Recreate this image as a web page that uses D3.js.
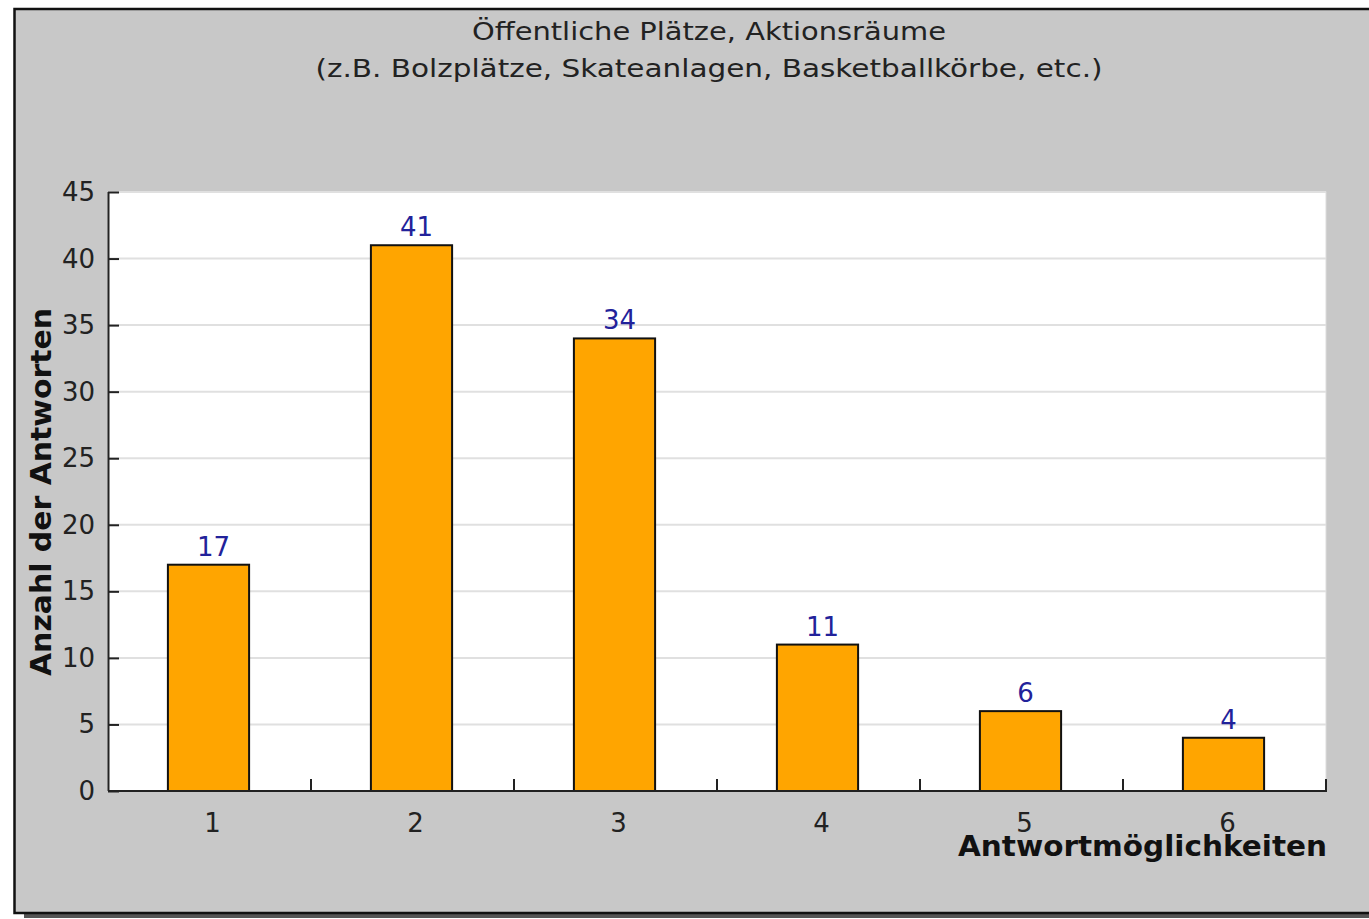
<!DOCTYPE html>
<meta charset="utf-8">
<style>
    body {
        margin: 0;
        background: #fff;
    }
    svg text {
        font-family: "DejaVu Sans", sans-serif;
    }
</style>

<body>
    <script src="https://d3js.org/d3.v7.min.js"></script>
    <script>
        var width = 1369
        var height = 919

        var titleLines = ['Öffentliche Plätze, Aktionsräume', '(z.B. Bolzplätze, Skateanlagen, Basketballkörbe, etc.)']
        var titleWidths = [474, 787]
        var categories = ['1', '2', '3', '4', '5', '6']
        var values = [17, 41, 34, 11, 6, 4]
        var yTicks = [0, 5, 10, 15, 20, 25, 30, 35, 40, 45]
        var xLabel = 'Antwortmöglichkeiten'
        var yLabel = 'Anzahl der Antworten'

        var plot = { left: 108, right: 1326, top: 192, bottom: 791 }

        var svg = d3.select('body')
            .append('svg')
            .attr('width', width)
            .attr('height', height)

        // frame with a small drop shadow
        svg.append('rect')
            .attr('x', 24).attr('y', 12)
            .attr('width', width).attr('height', 906)
            .style('fill', '#555')
        svg.append('rect')
            .attr('x', 14.5).attr('y', 9)
            .attr('width', width + 10).attr('height', 904)
            .style('fill', '#c8c8c8')
            .style('stroke', '#111')
            .style('stroke-width', 2.5)

        var x = d3.scaleBand()
            .domain(categories)
            .range([plot.left, plot.right])

        var y = d3.scaleLinear()
            .domain([0, 45])
            .range([plot.bottom, plot.top])

        svg.append('rect')
            .attr('x', plot.left).attr('y', plot.top)
            .attr('width', plot.right - plot.left).attr('height', plot.bottom - plot.top)
            .style('fill', '#fff')
            .style('stroke', '#dcdcdc')

        svg.append('g')
            .selectAll('line')
            .data(yTicks.slice(1))
            .enter().append('line')
            .attr('x1', plot.left).attr('x2', plot.right)
            .attr('y1', function (d) { return y(d) })
            .attr('y2', function (d) { return y(d) })
            .style('stroke', '#e0e0e0')
            .style('stroke-width', 2)

        var barW = x.bandwidth() * 0.4
        svg.append('g')
            .selectAll('rect')
            .data(values)
            .enter().append('rect')
            .attr('x', function (d, i) { return x(categories[i]) + x.bandwidth() / 2 - barW / 2 - 1 })
            .attr('y', function (d) { return y(d) })
            .attr('width', barW)
            .attr('height', function (d) { return y(0) - y(d) })
            .style('fill', '#ffa500')
            .style('stroke', '#111')
            .style('stroke-width', 2)

        svg.append('g')
            .selectAll('text')
            .data(values)
            .enter().append('text')
            .attr('x', function (d, i) { return x(categories[i]) + x.bandwidth() / 2 + 4 })
            .attr('y', function (d) { return y(d) - 9 })
            .attr('text-anchor', 'middle')
            .style('font-size', '26px')
            .style('fill', '#22229a')
            .text(function (d) { return d })

        // y axis, ticks pointing inward
        var yAxis = svg.append('g')
            .attr('transform', 'translate(' + plot.left + ',0)')
            .call(d3.axisRight(y).tickValues(yTicks).tickSize(11).tickFormat(''))
        yAxis.select('.domain').attr('d', 'M0.5,' + plot.top + 'V' + plot.bottom)
        yAxis.selectAll('line, path').style('stroke', '#222').style('stroke-width', 2)

        svg.append('g')
            .selectAll('text')
            .data(yTicks)
            .enter().append('text')
            .attr('x', plot.left - 13)
            .attr('y', function (d) { return y(d) + 9 })
            .attr('text-anchor', 'end')
            .style('font-size', '26px')
            .style('fill', '#222')
            .text(function (d) { return d })

        // x axis, boundary ticks pointing up
        var bounds = categories.map(function (c) { return x(c) + x.bandwidth() })
        var xAxis = svg.append('g')
        xAxis.append('line')
            .attr('x1', plot.left).attr('x2', plot.right + 1)
            .attr('y1', plot.bottom).attr('y2', plot.bottom)
        xAxis.selectAll('.tk')
            .data(bounds)
            .enter().append('line')
            .attr('class', 'tk')
            .attr('x1', function (d) { return d }).attr('x2', function (d) { return d })
            .attr('y1', plot.bottom).attr('y2', plot.bottom - 12)
        xAxis.selectAll('line').style('stroke', '#222').style('stroke-width', 2)

        svg.append('g')
            .selectAll('text')
            .data(categories)
            .enter().append('text')
            .attr('x', function (d) { return x(d) + x.bandwidth() / 2 + 3 })
            .attr('y', plot.bottom + 41)
            .attr('text-anchor', 'middle')
            .style('font-size', '26px')
            .style('fill', '#222')
            .text(function (d) { return d })

        svg.append('text')
            .attr('x', plot.right + 1)
            .attr('y', 856)
            .attr('text-anchor', 'end')
            .attr('textLength', 369)
            .attr('lengthAdjust', 'spacingAndGlyphs')
            .style('font-size', '29px')
            .style('font-weight', 'bold')
            .style('fill', '#111')
            .text(xLabel)

        svg.append('text')
            .attr('transform', 'translate(51,492) rotate(-90)')
            .attr('text-anchor', 'middle')
            .attr('textLength', 368)
            .attr('lengthAdjust', 'spacingAndGlyphs')
            .style('font-size', '29px')
            .style('font-weight', 'bold')
            .style('fill', '#111')
            .text(yLabel)

        svg.append('g')
            .selectAll('text')
            .data(titleLines)
            .enter().append('text')
            .attr('x', 709)
            .attr('y', function (d, i) { return 40 + i * 37 })
            .attr('text-anchor', 'middle')
            .attr('textLength', function (d, i) { return titleWidths[i] })
            .attr('lengthAdjust', 'spacingAndGlyphs')
            .style('font-family', '"DejaVu Sans Condensed", "DejaVu Sans", sans-serif')
            .style('font-size', '25px')
            .style('fill', '#222')
            .text(function (d) { return d })
    </script>
</body>
